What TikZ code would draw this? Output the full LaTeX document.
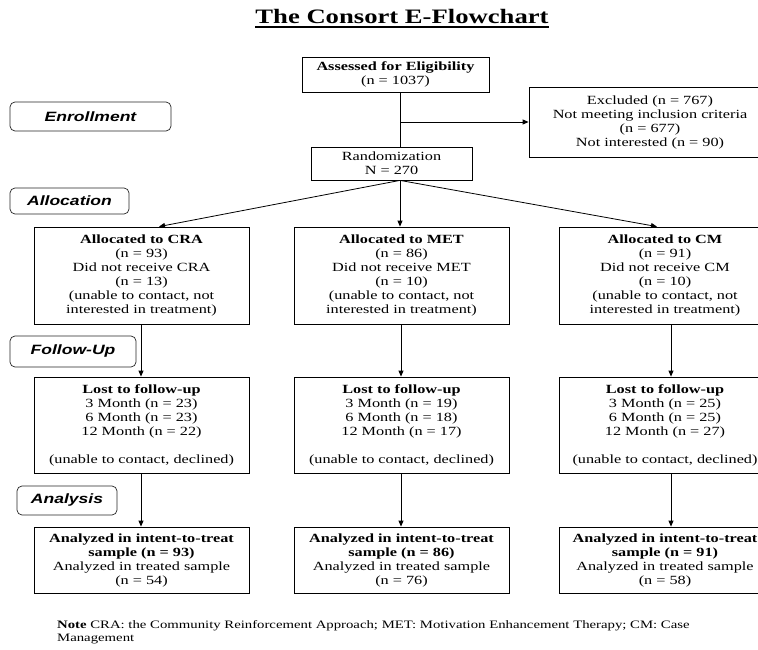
\documentclass[tikz,border=0pt]{standalone}
\usepackage{fontspec}
\setmainfont{Liberation Serif}[FakeStretch=1.3]
\newfontfamily\lblfont{Liberation Sans}[FakeStretch=1.3]
\usetikzlibrary{arrows.meta}
\begin{document}
\begin{tikzpicture}[x=1pt,y=-1pt,
  box/.style 2 args={draw, line width=0.8pt, align=center, inner sep=0pt,
    minimum width=#1, minimum height=#2, font=\fontsize{12.5}{14}\selectfont},
  phase/.style 2 args={draw=black!85, line width=0.7pt, rounded corners=5pt, inner sep=0pt,
    minimum width=#1, minimum height=#2, font=\lblfont\bfseries\itshape\fontsize{13.5}{16}\selectfont},
  arr/.style={line width=0.8pt, -{Triangle[length=6pt,width=5pt]}},
  ln/.style={line width=0.8pt}]
\useasboundingbox (0,0) rectangle (758,650);
\clip (0,0) rectangle (758,650);
\fill[white] (0,0) rectangle (758,650);

% title
\node[anchor=base, inner sep=0pt, font=\bfseries\fontsize{20.5}{24}\selectfont] (title) at (402,24) {The Consort E-Flowchart};
\draw[line width=1.3pt] ([yshift=-3pt]title.base west) -- ([yshift=-3pt]title.base east);

% phase labels
\node[phase={161pt}{29pt}] (enroll) at (90.5,116.5) {Enrollment};
\node[phase={119pt}{26pt}] (alloc) at (69.5,201) {Allocation};
\node[phase={126pt}{31pt}] (follow) at (73,351.5) {Follow-Up};
\node[phase={100pt}{29pt}] (anal) at (67,500.5) {Analysis};

% top boxes
\node[box={187pt}{35pt}] (assess) at (395.5,74.5) {\textbf{Assessed for Eligibility}\\(n = 1037)};
\node[box={242pt}{70pt}] (excl) at (650,122) {Excluded (n = 767)\\Not meeting inclusion criteria\\(n = 677)\\Not interested (n = 90)};
\node[box={161pt}{33pt}] (rand) at (391.5,163.5) {Randomization\\N = 270};

% allocation boxes
\node[box={215pt}{97pt}] (craA) at (141.5,275.5) {\textbf{Allocated to CRA}\\(n = 93)\\Did not receive CRA\\(n = 13)\\(unable to contact, not\\interested in treatment)};
\node[box={215pt}{97pt}] (metA) at (401.5,275.5) {\textbf{Allocated to MET}\\(n = 86)\\Did not receive MET\\(n = 10)\\(unable to contact, not\\interested in treatment)};
\node[box={212pt}{97pt}] (cmA) at (665,275.5) {\textbf{Allocated to CM}\\(n = 91)\\Did not receive CM\\(n = 10)\\(unable to contact, not\\interested in treatment)};

% follow-up boxes
\node[box={215pt}{96pt}] (craL) at (141.5,425) {\textbf{Lost to follow-up}\\3 Month (n = 23)\\6 Month (n = 23)\\12 Month (n = 22)\\[14pt](unable to contact, declined)};
\node[box={215pt}{96pt}] (metL) at (401.5,425) {\textbf{Lost to follow-up}\\3 Month (n = 19)\\6 Month (n = 18)\\12 Month (n = 17)\\[14pt](unable to contact, declined)};
\node[box={212pt}{96pt}] (cmL) at (665,425) {\textbf{Lost to follow-up}\\3 Month (n = 25)\\6 Month (n = 25)\\12 Month (n = 27)\\[14pt](unable to contact, declined)};

% analysis boxes
\node[box={215pt}{66pt}] (craN) at (141.5,560) {\textbf{Analyzed in intent-to-treat}\\\textbf{sample (n = 93)}\\Analyzed in treated sample\\(n = 54)};
\node[box={215pt}{66pt}] (metN) at (401.5,560) {\textbf{Analyzed in intent-to-treat}\\\textbf{sample (n = 86)}\\Analyzed in treated sample\\(n = 76)};
\node[box={212pt}{66pt}] (cmN) at (665,560) {\textbf{Analyzed in intent-to-treat}\\\textbf{sample (n = 91)}\\Analyzed in treated sample\\(n = 58)};

% note
\node[anchor=north west, inner sep=0pt, align=left, font=\fontsize{11.35}{13}\selectfont] (note) at (57,620)
  {\textbf{Note} CRA: the Community Reinforcement Approach; MET: Motivation Enhancement Therapy; CM: Case\\Management};

% connectors
\coordinate (spine) at (400,0);
\coordinate (t1) at (159,0);
\coordinate (t3) at (657,0);
\coordinate (v1) at (141,0);
\coordinate (v2) at (401,0);
\coordinate (v3) at (671,0);
\draw[ln] (assess.south -| spine) -- (rand.north -| spine);
\draw[arr] (spine |- excl.west) -- (excl.west);
\draw[arr] (rand.south -| spine) -- (craA.north -| t1);
\draw[arr] (rand.south -| spine) -- (metA.north -| spine);
\draw[arr] (rand.south -| spine) -- (cmA.north -| t3);
\draw[arr] (craA.south -| v1) -- (craL.north -| v1);
\draw[arr] (metA.south -| v2) -- (metL.north -| v2);
\draw[arr] (cmA.south -| v3) -- (cmL.north -| v3);
\draw[arr] (craL.south -| v1) -- (craN.north -| v1);
\draw[arr] (metL.south -| v2) -- (metN.north -| v2);
\draw[arr] (cmL.south -| v3) -- (cmN.north -| v3);
\end{tikzpicture}
\end{document}
